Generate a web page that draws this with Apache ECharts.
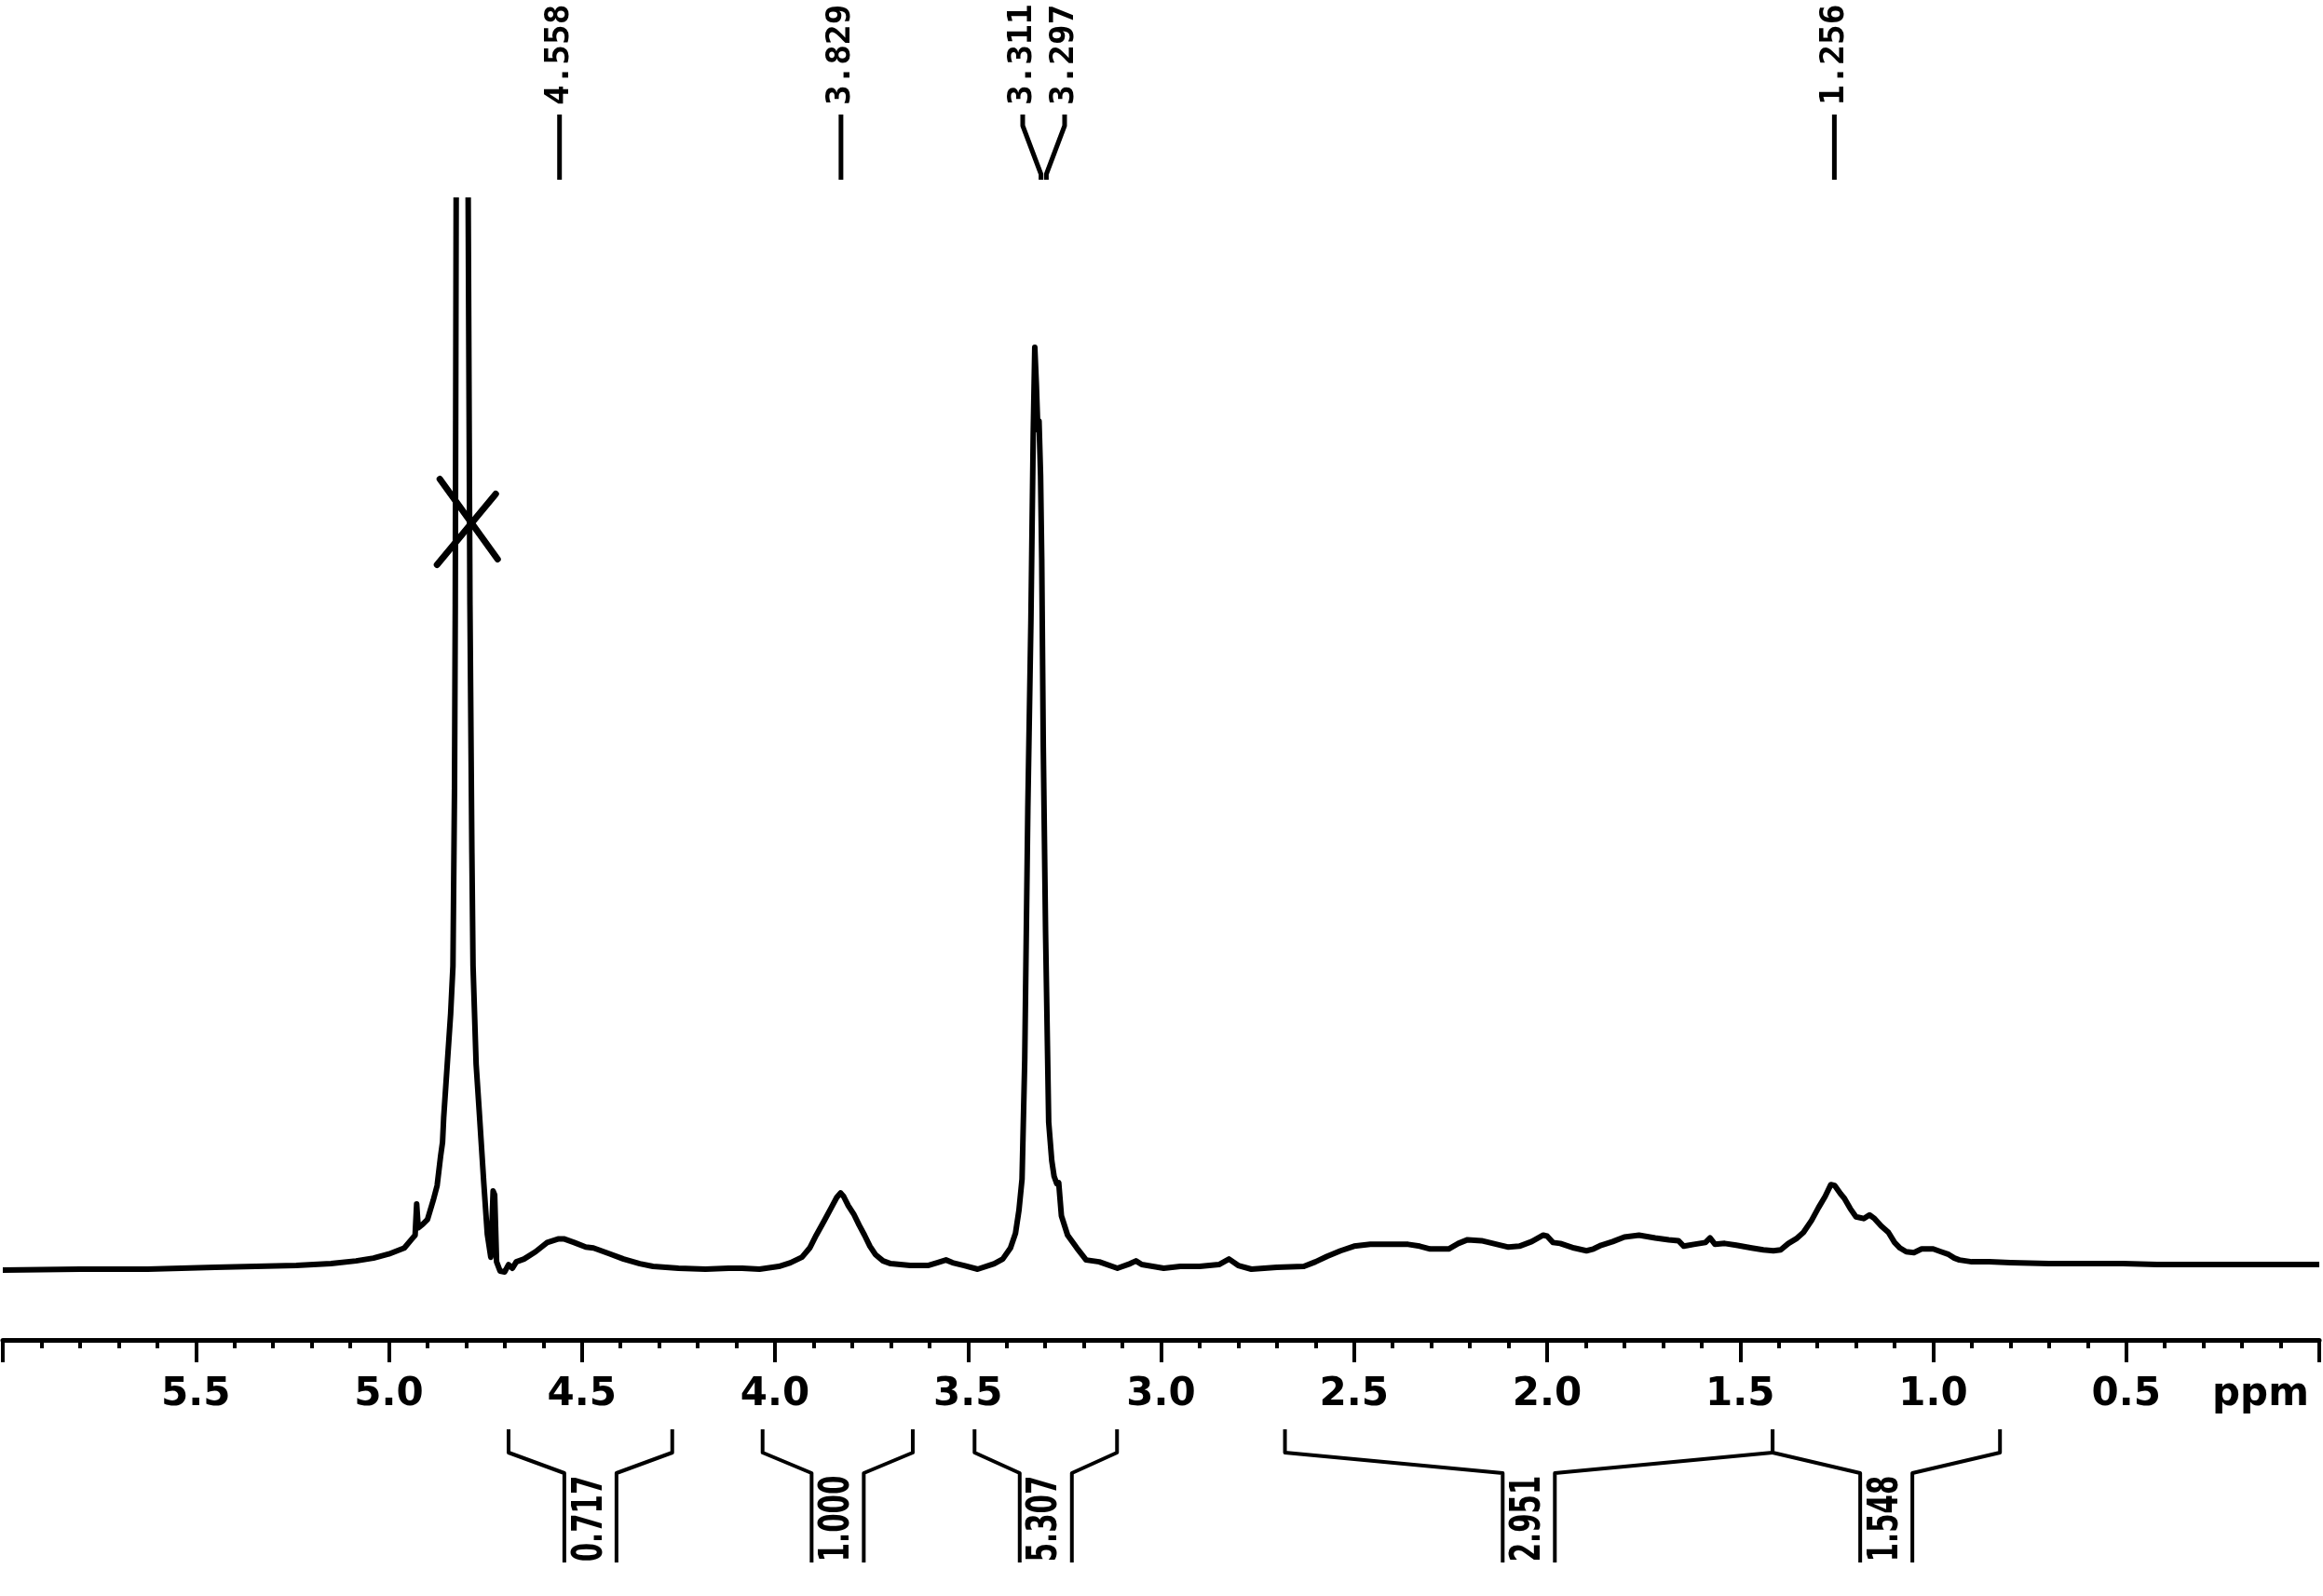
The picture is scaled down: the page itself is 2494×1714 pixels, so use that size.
<!DOCTYPE html>
<html><head><meta charset="utf-8">
<script src="https://cdn.jsdelivr.net/npm/echarts@6/dist/echarts.min.js"></script>
<style>html,body{margin:0;padding:0;background:#fff}#c{width:2494px;height:1714px}</style>
</head><body><div id="c"></div>
<script>
// ---- spectrum (chemical shift in ppm, relative intensity: 3.3 ppm peak = 100) ----
const specPpm = [6.00,5.80,5.625,5.45,5.24,5.15,5.085,5.04,5.00,4.96,4.94,4.932,4.928,4.924,4.912,4.90,4.885,4.875,4.866,4.861,4.858,4.848,4.840,4.834,4.830,4.828,4.8255,4.810,4.795,4.790,4.785,4.782,4.774,4.766,4.754,4.745,4.736,4.730,4.726,4.721,4.712,4.700,4.690,4.680,4.670,4.650,4.620,4.590,4.560,4.547,4.520,4.490,4.470,4.430,4.392,4.350,4.316,4.250,4.180,4.120,4.085,4.040,3.990,3.960,3.930,3.910,3.893,3.872,3.854,3.840,3.830,3.822,3.810,3.796,3.782,3.768,3.754,3.740,3.720,3.700,3.650,3.604,3.580,3.557,3.540,3.510,3.475,3.432,3.410,3.390,3.377,3.368,3.360,3.353,3.345,3.337,3.331,3.327,3.323,3.319,3.316,3.312,3.309,3.305,3.299,3.291,3.283,3.277,3.270,3.265,3.258,3.242,3.218,3.194,3.160,3.113,3.080,3.065,3.050,2.993,2.950,2.900,2.850,2.824,2.800,2.766,2.700,2.630,2.600,2.570,2.535,2.500,2.458,2.400,2.360,2.330,2.303,2.255,2.230,2.206,2.170,2.130,2.100,2.072,2.040,2.010,2.000,1.985,1.966,1.930,1.898,1.880,1.860,1.830,1.800,1.762,1.720,1.685,1.660,1.646,1.620,1.590,1.578,1.565,1.540,1.510,1.470,1.440,1.414,1.395,1.375,1.355,1.336,1.315,1.297,1.280,1.265,1.255,1.240,1.230,1.215,1.200,1.180,1.165,1.152,1.135,1.116,1.100,1.086,1.070,1.050,1.030,1.000,0.980,0.960,0.945,0.932,0.900,0.855,0.800,0.700,0.600,0.508,0.420,0.315,0.200,0.100,0.007,0.000];
const specInt = [-0.4,-0.3,-0.3,-0.1,0.1,0.3,0.6,0.9,1.35,2.0,3.0,3.4,6.8,4.2,4.6,5.1,7.2,8.8,12.0,13.5,16.2,22.5,27.5,32.7,52,72,120,520,120,72,45,32.7,22,16.9,9.0,3.5,1.0,8.2,7.8,0.5,-0.5,-0.6,0.2,-0.2,0.5,0.8,1.6,2.6,3.0,3.0,2.6,2.1,2.0,1.4,0.8,0.3,0.0,-0.2,-0.3,-0.2,-0.2,-0.3,0.0,0.4,1.0,2.0,3.4,5.0,6.4,7.5,8.0,7.6,6.6,5.7,4.5,3.4,2.2,1.3,0.6,0.3,0.1,0.1,0.4,0.7,0.4,0.1,-0.3,0.3,0.8,2.0,3.6,6.1,9.5,22.5,49.8,70.3,90.7,100,96,91,92,86,77,56.6,36.2,15.7,11.5,9.8,9.0,9.1,5.5,3.4,2.0,0.7,0.5,-0.2,0.3,0.6,0.2,-0.2,0.0,0.0,0.2,0.8,0.1,-0.3,-0.1,0.0,0.5,1.1,1.7,2.2,2.4,2.4,2.4,2.2,1.9,1.9,2.5,2.9,2.8,2.4,2.1,2.2,2.7,3.4,3.3,2.6,2.5,2.0,1.7,1.9,2.3,2.7,3.2,3.4,3.1,2.9,2.8,2.2,2.4,2.6,3.1,2.4,2.5,2.3,2.0,1.8,1.7,1.8,2.5,3.0,3.7,5.0,6.4,7.6,8.9,8.8,7.9,7.4,6.3,5.4,5.2,5.6,5.2,4.4,3.7,2.6,2.0,1.6,1.5,1.9,1.9,1.6,1.3,0.9,0.7,0.5,0.5,0.4,0.3,0.3,0.3,0.2,0.2,0.2,0.2,0.2,0.2];

// ---- peak picking labels ----
const peakPpm = [4.558, 3.829, 3.311, 3.297, 1.256];
const peakLabels = ['4.558', '3.829', '3.311', '3.297', '1.256'];

// ---- integrals ----
const integralFrom = [4.690, 4.032, 3.483, 2.679, 1.416];
const integralTo = [4.266, 3.643, 3.114, 1.416, 0.827];
const integralValues = ['0.717', '1.000', '5.307', '2.951', '1.548'];

// ---- crossed-out solvent peak mark ----
const crossMark = [[4.798, 80.9]];

// ---- axis ----
const xMin = 0, xMax = 6, xStep = 0.5;
const yMin = -8, yMax = 116;
const axisUnit = 'ppm';

const chart = echarts.init(document.getElementById('c'), null, {renderer: 'canvas'});

function spreadLabels(xs, gap) {
  const order = xs.map((x, i) => i).sort((a, b) => xs[a] - xs[b]);
  const out = xs.slice();
  const groups = [];
  let g = [order[0]];
  for (let k = 1; k < order.length; k++) {
    if (xs[order[k]] - xs[order[k - 1]] < gap) g.push(order[k]);
    else { groups.push(g); g = [order[k]]; }
  }
  groups.push(g);
  groups.forEach(gr => {
    const m = gr.reduce((s, i) => s + xs[i], 0) / gr.length;
    gr.forEach((idx, j) => { out[idx] = m + (j - (gr.length - 1) / 2) * gap; });
  });
  return out;
}

const option = {
  backgroundColor: '#fff',
  animation: false,
  grid: {left: 3, right: 4, top: 215, bottom: 275, containLabel: false, outerBoundsMode: 'none'},
  xAxis: {
    type: 'value', min: xMin, max: xMax, interval: xStep, inverse: true,
    axisLine: {show: true, onZero: false, lineStyle: {color: '#000', width: 5}},
    axisTick: {show: true, length: 24, lineStyle: {color: '#000', width: 4}},
    minorTick: {show: true, splitNumber: 5, length: 9, lineStyle: {color: '#000', width: 4}},
    splitLine: {show: false},
    minorSplitLine: {show: false},
    axisLabel: {
      show: true, margin: 38, color: '#000', fontFamily: 'DejaVu Sans', fontWeight: 'bold', fontSize: 42,
      showMinLabel: true, showMaxLabel: true,
      formatter: function (v) {
        if (Math.abs(v - xMin) < 1e-9) return '{p|' + axisUnit + '}';
        if (Math.abs(v - xMax) < 1e-9) return '';
        return v.toFixed(1);
      },
      rich: {p: {fontFamily: 'DejaVu Sans', fontWeight: 'bold', fontSize: 42, color: '#000', padding: [0, 126, 0, 0]}}
    }
  },
  yAxis: {type: 'value', min: yMin, max: yMax, show: false, splitLine: {show: false}},
  series: [
    {
      type: 'line', data: specPpm.map((p, i) => [p, specInt[i]]),
      symbol: 'none', showSymbol: false, clip: true, silent: true,
      lineStyle: {color: '#000', width: 6, join: 'round'}
    },
    {
      type: 'custom', clip: false, silent: true,
      data: peakPpm.map(p => [p, yMax]),
      renderItem: function (params, api) {
        const i = params.dataIndex;
        const xs = peakPpm.map(p => api.coord([p, yMax])[0]);
        const lx = spreadLabels(xs, 45);
        const topY = api.coord([peakPpm[i], yMax])[1];
        const px = xs[i];
        return {
          type: 'group',
          children: [
            {type: 'polyline', shape: {points: [[lx[i], topY - 92], [lx[i], topY - 80], [px, topY - 28], [px, topY - 22]]},
             style: {stroke: '#000', lineWidth: 5, fill: null, lineJoin: 'round'}},
            {type: 'text', x: lx[i], y: topY - 102, rotation: Math.PI / 2,
             style: {text: peakLabels[i], font: 'bold 36px "DejaVu Sans Mono"', fill: '#000', align: 'left', verticalAlign: 'middle'}}
          ]
        };
      }
    },
    {
      type: 'custom', clip: false, silent: true,
      data: integralFrom.map((f, i) => [f, integralTo[i]]),
      encode: {x: [0, 1]},
      renderItem: function (params, api) {
        const i = params.dataIndex;
        const x1 = api.coord([integralFrom[i], yMin])[0];
        const x2 = api.coord([integralTo[i], yMin])[0];
        const ay = api.coord([integralFrom[i], yMin])[1];
        const cx = (x1 + x2) / 2, hw = 28;
        const top = ay + 96, brk = ay + 121, boxTop = ay + 143, boxBot = ay + 239;
        const st = {stroke: '#000', lineWidth: 4, fill: null, lineJoin: 'round'};
        return {
          type: 'group',
          children: [
            {type: 'polyline', shape: {points: [[x1, top], [x1, brk], [cx - hw, boxTop], [cx - hw, boxBot]]}, style: st},
            {type: 'polyline', shape: {points: [[x2, top], [x2, brk], [cx + hw, boxTop], [cx + hw, boxBot]]}, style: st},
            {type: 'text', x: cx, y: ay + 192, rotation: Math.PI / 2, scaleX: 0.65, scaleY: 1,
             style: {text: integralValues[i], font: 'bold 45px "DejaVu Sans"', fill: '#000', align: 'center', verticalAlign: 'middle'}}
          ]
        };
      }
    },
    {
      type: 'custom', clip: false, silent: true,
      data: crossMark,
      renderItem: function (params, api) {
        const c = api.coord([api.value(0), api.value(1)]);
        const st = {stroke: '#000', lineWidth: 7, fill: null, lineCap: 'round'};
        return {
          type: 'group',
          children: [
            {type: 'line', shape: {x1: c[0] - 29, y1: c[1] - 47, x2: c[0] + 33, y2: c[1] + 39}, style: st},
            {type: 'line', shape: {x1: c[0] - 32, y1: c[1] + 45, x2: c[0] + 31, y2: c[1] - 31}, style: st}
          ]
        };
      }
    }
  ]
};
chart.setOption(option);
</script>
</body></html>
